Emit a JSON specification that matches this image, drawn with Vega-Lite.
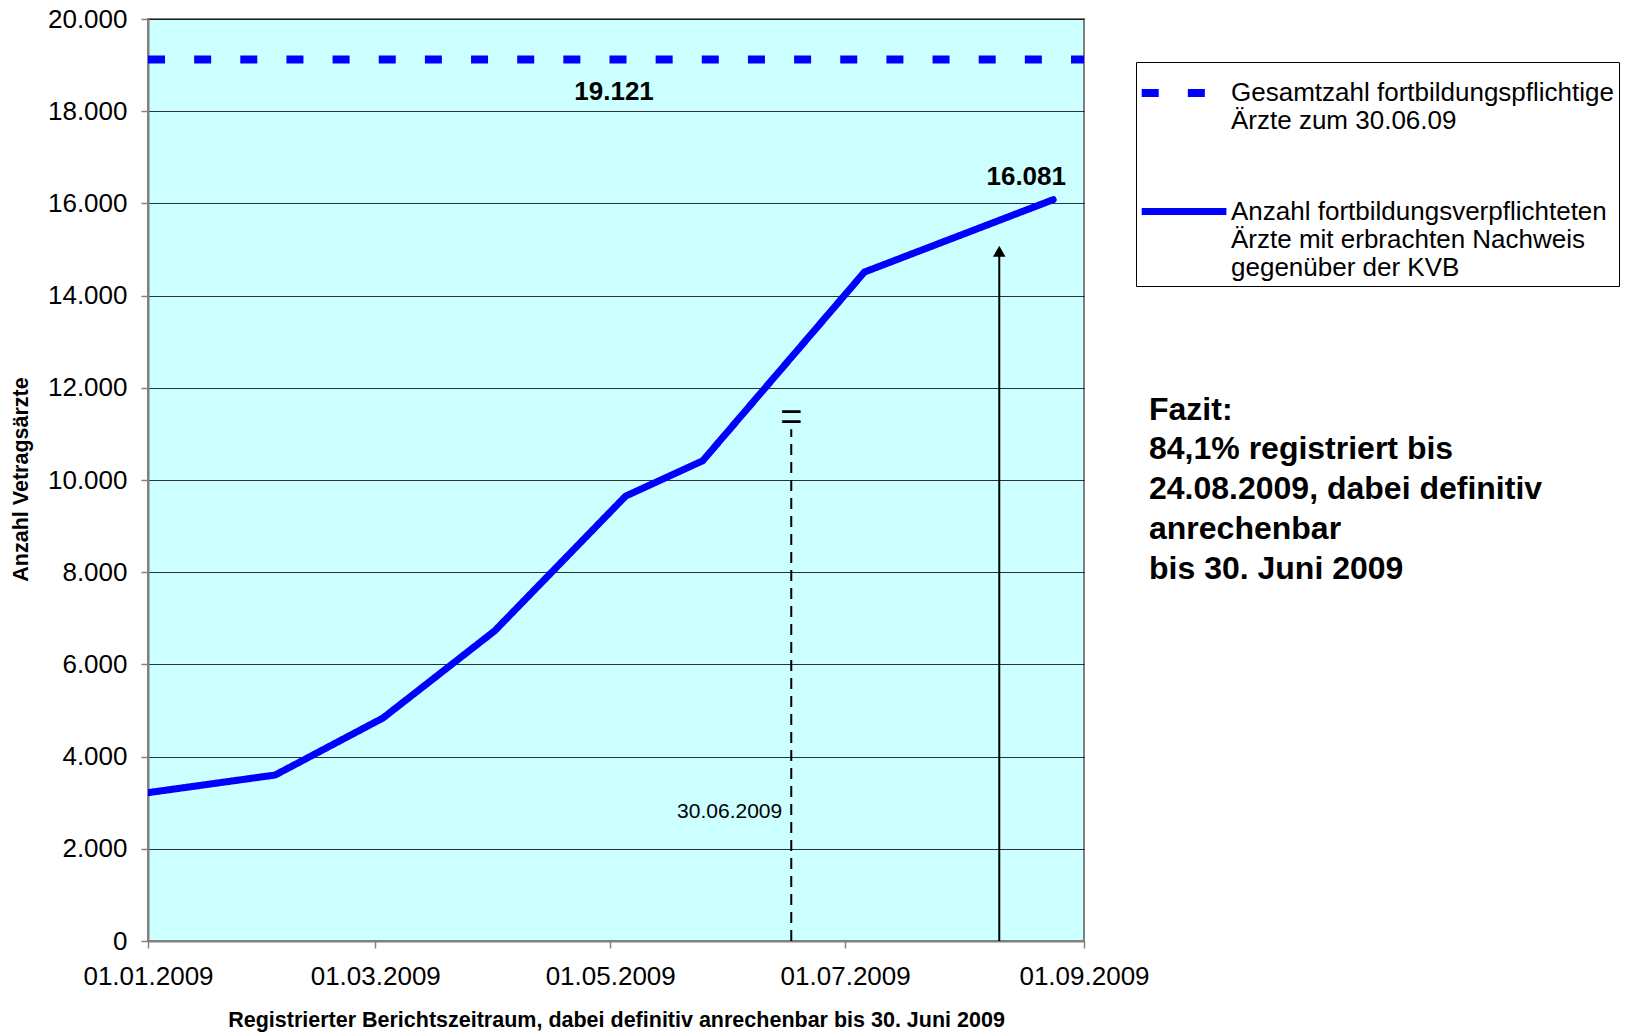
{
  "$schema": "https://vega.github.io/schema/vega-lite/v6.json",
  "width": 936,
  "height": 922,
  "autosize": "none",
  "padding": {"left": 148, "top": 19, "right": 543, "bottom": 91},
  "background": "white",
  "title": {
    "text": "Fazit:",
    "subtitle": ["84,1% registriert bis", "24.08.2009, dabei definitiv", "anrechenbar", "bis 30. Juni 2009"],
    "anchor": "start",
    "frame": "group",
    "orient": "top",
    "dx": 1001,
    "dy": 584,
    "font": "Liberation Sans",
    "fontSize": 32,
    "fontWeight": "bold",
    "color": "black",
    "subtitleFont": "Liberation Sans",
    "subtitleFontSize": 32,
    "subtitleFontWeight": "bold",
    "subtitleColor": "black",
    "subtitleLineHeight": 40,
    "subtitlePadding": 7
  },
  "datasets": {
    "reihen": [
      {"reihe": "Gesamtzahl fortbildungspflichtige|Ärzte zum 30.06.09", "datum": "2009-01-01", "anzahl": 19121},
      {"reihe": "Gesamtzahl fortbildungspflichtige|Ärzte zum 30.06.09", "datum": "2009-09-01", "anzahl": 19121},
      {"reihe": "Anzahl fortbildungsverpflichteten|Ärzte mit erbrachten Nachweis|gegenüber der KVB", "datum": "2009-01-01", "anzahl": 3217},
      {"reihe": "Anzahl fortbildungsverpflichteten|Ärzte mit erbrachten Nachweis|gegenüber der KVB", "datum": "2009-02-03", "anzahl": 3600},
      {"reihe": "Anzahl fortbildungsverpflichteten|Ärzte mit erbrachten Nachweis|gegenüber der KVB", "datum": "2009-03-03", "anzahl": 4837},
      {"reihe": "Anzahl fortbildungsverpflichteten|Ärzte mit erbrachten Nachweis|gegenüber der KVB", "datum": "2009-04-01", "anzahl": 6727},
      {"reihe": "Anzahl fortbildungsverpflichteten|Ärzte mit erbrachten Nachweis|gegenüber der KVB", "datum": "2009-05-05", "anzahl": 9651},
      {"reihe": "Anzahl fortbildungsverpflichteten|Ärzte mit erbrachten Nachweis|gegenüber der KVB", "datum": "2009-05-25", "anzahl": 10416},
      {"reihe": "Anzahl fortbildungsverpflichteten|Ärzte mit erbrachten Nachweis|gegenüber der KVB", "datum": "2009-07-06", "anzahl": 14511},
      {"reihe": "Anzahl fortbildungsverpflichteten|Ärzte mit erbrachten Nachweis|gegenüber der KVB", "datum": "2009-08-24", "anzahl": 16081}
    ],
    "wertlabels": [
      {"datum": "2009-05-02", "anzahl": 18425, "text": "19.121"},
      {"datum": "2009-08-17", "anzahl": 16580, "text": "16.081"}
    ],
    "stichtag": [
      {"datum": "2009-06-17", "von": 0, "bis": 11100, "zeichen": "=", "zeichen_y": 11330, "text": "30.06.2009", "text_datum": "2009-06-01", "text_y": 2790}
    ],
    "pfeil": [
      {"datum": "2009-08-10", "von": 0, "bis": 14900, "spitze": 14960}
    ]
  },
  "encoding": {
    "x": {
      "field": "datum",
      "type": "temporal",
      "scale": {"type": "utc", "domain": [{"year": 2009, "month": 1, "date": 1, "utc": true}, {"year": 2009, "month": 9, "date": 1, "utc": true}]},
      "axis": {
        "title": "Registrierter Berichtszeitraum, dabei definitiv anrechenbar bis 30. Juni 2009",
        "values": [
          {"year": 2009, "month": 1, "date": 1, "utc": true},
          {"year": 2009, "month": 3, "date": 1, "utc": true},
          {"year": 2009, "month": 5, "date": 1, "utc": true},
          {"year": 2009, "month": 7, "date": 1, "utc": true},
          {"year": 2009, "month": 9, "date": 1, "utc": true}
        ],
        "labelExpr": "utcFormat(datum.value, '%d.%m.%Y')",
        "labelFlush": false,
        "labelOverlap": false,
        "labelBound": false,
        "grid": false,
        "labelPadding": 15,
        "titlePadding": 20
      }
    },
    "y": {
      "field": "anzahl",
      "type": "quantitative",
      "scale": {"domain": [0, 20000], "nice": false},
      "axis": {
        "title": "Anzahl Vetragsärzte",
        "values": [0, 2000, 4000, 6000, 8000, 10000, 12000, 14000, 16000, 18000, 20000],
        "labelExpr": "replace(format(datum.value, ','), ',', '.')",
        "grid": true,
        "labelPadding": 14,
        "titleX": -127,
        "titleY": 460,
        "titleBaseline": "middle"
      }
    }
  },
  "layer": [
    {
      "data": {"name": "reihen"},
      "transform": [{"filter": "indexof(datum.reihe, 'Gesamtzahl') === 0"}],
      "mark": {"type": "line", "color": "#0000FF", "strokeCap": "butt"},
      "encoding": {
        "strokeDash": {
          "field": "reihe",
          "type": "nominal",
          "scale": {
            "domain": ["Gesamtzahl fortbildungspflichtige|Ärzte zum 30.06.09", "Anzahl fortbildungsverpflichteten|Ärzte mit erbrachten Nachweis|gegenüber der KVB"],
            "range": [[17, 29.15], [1, 0]]
          },
          "legend": {"title": null, "labelExpr": "split(datum.label, '|')"}
        },
        "strokeWidth": {
          "field": "reihe",
          "type": "nominal",
          "scale": {
            "domain": ["Gesamtzahl fortbildungspflichtige|Ärzte zum 30.06.09", "Anzahl fortbildungsverpflichteten|Ärzte mit erbrachten Nachweis|gegenüber der KVB"],
            "range": [8, 7]
          },
          "legend": {"title": null, "labelExpr": "split(datum.label, '|')"}
        }
      }
    },
    {
      "data": {"name": "reihen"},
      "transform": [{"filter": "indexof(datum.reihe, 'Anzahl') === 0"}],
      "mark": {"type": "line", "color": "#0000FF", "strokeCap": "round", "strokeJoin": "miter", "clip": true},
      "encoding": {
        "strokeDash": {"field": "reihe", "type": "nominal"},
        "strokeWidth": {"field": "reihe", "type": "nominal"}
      }
    },
    {
      "data": {"name": "stichtag"},
      "mark": {"type": "rule", "color": "black", "strokeWidth": 2, "strokeDash": [11, 7]},
      "encoding": {
        "y": {"field": "von", "type": "quantitative"},
        "y2": {"field": "bis"}
      }
    },
    {
      "data": {"name": "stichtag"},
      "mark": {"type": "text", "font": "Liberation Sans", "fontSize": 38, "fontWeight": 300, "color": "black", "baseline": "middle"},
      "encoding": {
        "y": {"field": "zeichen_y", "type": "quantitative"},
        "text": {"field": "zeichen"}
      }
    },
    {
      "data": {"name": "stichtag"},
      "mark": {"type": "text", "font": "Liberation Sans", "fontSize": 21, "color": "black", "baseline": "middle"},
      "encoding": {
        "x": {"field": "text_datum", "type": "temporal"},
        "y": {"field": "text_y", "type": "quantitative"},
        "text": {"field": "text"}
      }
    },
    {
      "data": {"name": "pfeil"},
      "mark": {"type": "rule", "color": "black", "strokeWidth": 2},
      "encoding": {
        "y": {"field": "von", "type": "quantitative"},
        "y2": {"field": "bis"}
      }
    },
    {
      "data": {"name": "pfeil"},
      "mark": {"type": "point", "shape": "triangle-up", "filled": true, "color": "black", "size": 160, "opacity": 1},
      "encoding": {
        "y": {"field": "spitze", "type": "quantitative"}
      }
    },
    {
      "data": {"name": "wertlabels"},
      "mark": {"type": "text", "font": "Liberation Sans", "fontSize": 26, "fontWeight": "bold", "color": "black", "baseline": "middle"},
      "encoding": {
        "text": {"field": "text"}
      }
    }
  ],
  "config": {
    "font": "Liberation Sans",
    "view": {"fill": "#CCFFFF", "stroke": "#808080", "strokeWidth": 2},
    "axis": {
      "labelFont": "Liberation Sans",
      "labelFontSize": 26,
      "labelColor": "black",
      "titleFont": "Liberation Sans",
      "titleFontSize": 21.5,
      "titleFontWeight": "bold",
      "titleColor": "black",
      "domainColor": "#808080",
      "domainWidth": 2,
      "tickColor": "#808080",
      "tickWidth": 1.5,
      "tickSize": 7,
      "gridColor": "black",
      "gridWidth": 1,
      "gridOpacity": 0.8
    },
    "legend": {
      "orient": "none",
      "legendX": 988,
      "legendY": 43,
      "strokeColor": "black",
      "fillColor": "white",
      "padding": 5,
      "symbolType": "M-1.15,0H2.7",
      "symbolSize": 1936,
      "symbolStrokeColor": "#0000FF",
      "labelFont": "Liberation Sans",
      "labelFontSize": 26,
      "labelColor": "black",
      "labelLimit": 500,
      "labelOffset": 38,
      "rowPadding": 52
    }
  }
}
